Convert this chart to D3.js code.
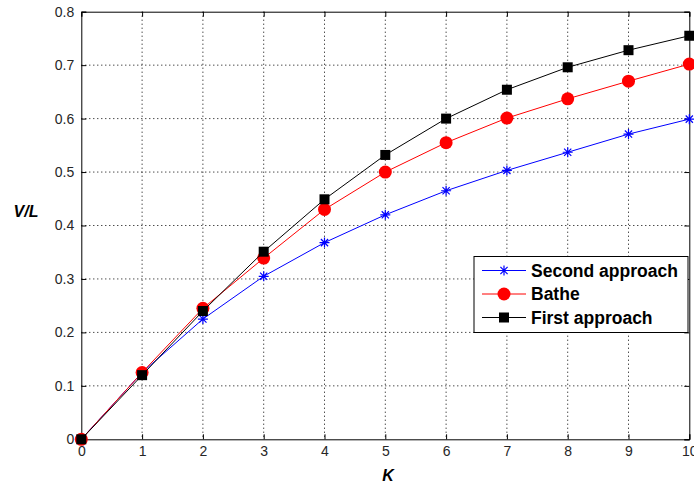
<!DOCTYPE html>
<html>
<head>
<meta charset="utf-8">
<script src="https://cdn.jsdelivr.net/npm/d3@7"></script>
<style>
  body { margin: 0; background: #fff; }
  text { font-family: Arial, "Liberation Sans", sans-serif; }
</style>
</head>
<body>
<div id="chart"></div>
<script>
var svgWidth = 694;
var svgHeight = 483;

var leftMargin = 81.3;
var rightMargin = 694 - 689.3;
var topMargin = 11.7;
var bottomMargin = 483 - 439.3;

var chartWidth = svgWidth - leftMargin - rightMargin;
var chartHeight = svgHeight - topMargin - bottomMargin;

// data
var kValues = [0, 1, 2, 3, 4, 5, 6, 7, 8, 9, 10];
var secondApproach = [0, 0.125, 0.225, 0.305, 0.368, 0.42, 0.465, 0.503, 0.537, 0.571, 0.599];
var bathe = [0, 0.125, 0.245, 0.339, 0.43, 0.50, 0.555, 0.601, 0.637, 0.670, 0.702];
var firstApproach = [0, 0.12, 0.24, 0.351, 0.449, 0.532, 0.60, 0.654, 0.696, 0.728, 0.755];

var xTicks = [0, 1, 2, 3, 4, 5, 6, 7, 8, 9, 10];
var yTicks = [0, 0.1, 0.2, 0.3, 0.4, 0.5, 0.6, 0.7, 0.8];

var series = [
    {name: 'Second approach', values: secondApproach, color: '#0000ff', marker: 'star'},
    {name: 'Bathe', values: bathe, color: '#ff0000', marker: 'circle'},
    {name: 'First approach', values: firstApproach, color: '#000000', marker: 'square'}
];

var svg = d3.select('#chart')
    .append('svg')
    .attr('width', svgWidth)
    .attr('height', svgHeight);

var chart = svg.append('g')
    .attr('transform', `translate(${leftMargin}, ${topMargin})`);

var x = d3.scaleLinear().domain([0, 10]).range([0, chartWidth]);
var y = d3.scaleLinear().domain([0, 0.8]).range([chartHeight, 0]);

// dotted grid
chart.selectAll('.vgrid')
    .data(xTicks.slice(1, -1))
    .enter()
    .append('line')
    .attr('x1', d => x(d)).attr('x2', d => x(d))
    .attr('y1', 0).attr('y2', chartHeight)
    .attr('stroke', '#000')
    .attr('stroke-width', 1)
    .attr('stroke-dasharray', '1,3');

chart.selectAll('.hgrid')
    .data(yTicks.slice(1, -1))
    .enter()
    .append('line')
    .attr('x1', 0).attr('x2', chartWidth)
    .attr('y1', d => y(d)).attr('y2', d => y(d))
    .attr('stroke', '#000')
    .attr('stroke-width', 1)
    .attr('stroke-dasharray', '1,3');

// axes with inward ticks on all sides
var xBottom = chart.append('g')
    .attr('transform', `translate(0, ${chartHeight})`)
    .call(d3.axisBottom(x).tickValues(xTicks).tickSize(-5).tickPadding(8).tickFormat(d3.format('d')));
var xTop = chart.append('g')
    .call(d3.axisTop(x).tickValues(xTicks).tickSize(-5).tickFormat(''));
var yLeft = chart.append('g')
    .call(d3.axisLeft(y).tickValues(yTicks).tickSize(-5).tickPadding(7).tickFormat(d => d === 0 ? '0' : d3.format('.1f')(d)));
var yRight = chart.append('g')
    .attr('transform', `translate(${chartWidth}, 0)`)
    .call(d3.axisRight(y).tickValues(yTicks).tickSize(-5).tickFormat(''));

[xBottom, xTop, yLeft, yRight].forEach(function(ax) {
    ax.select('.domain').attr('stroke', '#000').attr('stroke-width', 1);
    ax.selectAll('.tick line').attr('stroke', '#000');
    ax.selectAll('text')
        .attr('fill', '#262626')
        .style('font-size', '14px')
        .style('font-family', 'Arial, "Liberation Sans", sans-serif');
});
xBottom.selectAll('text').attr('dy', '0.65em');

var line = d3.line()
    .x((d, i) => x(kValues[i]))
    .y(d => y(d));

function drawMarker(g, type, color, cx, cy) {
    if (type === 'circle') {
        g.append('circle')
            .attr('cx', cx).attr('cy', cy).attr('r', 6.5)
            .attr('fill', color);
    } else if (type === 'square') {
        g.append('rect')
            .attr('x', cx - 5).attr('y', cy - 5)
            .attr('width', 10).attr('height', 10)
            .attr('fill', color);
    } else {
        var r = 5;
        var s = r * 0.72;
        var p = `M${cx - r},${cy}L${cx + r},${cy}M${cx},${cy - r}L${cx},${cy + r}` +
                `M${cx - s},${cy - s}L${cx + s},${cy + s}M${cx - s},${cy + s}L${cx + s},${cy - s}`;
        g.append('path')
            .attr('d', p)
            .attr('stroke', color)
            .attr('stroke-width', 1.2)
            .attr('fill', 'none');
    }
}

series.forEach(function(s) {
    chart.append('path')
        .datum(s.values)
        .attr('d', line)
        .attr('fill', 'none')
        .attr('stroke', s.color)
        .attr('stroke-width', 1);
    var mg = chart.append('g');
    s.values.forEach(function(v, i) {
        drawMarker(mg, s.marker, s.color, x(kValues[i]), y(v));
    });
});

// axis labels
svg.append('text')
    .attr('x', 26)
    .attr('y', 217)
    .attr('text-anchor', 'middle')
    .style('font-size', '16px')
    .style('font-weight', 'bold')
    .style('font-style', 'italic')
    .text('V/L');

svg.append('text')
    .attr('x', 388)
    .attr('y', 481)
    .attr('text-anchor', 'middle')
    .style('font-size', '16px')
    .style('font-weight', 'bold')
    .style('font-style', 'italic')
    .text('K');

// legend
var legend = svg.append('g')
    .attr('transform', 'translate(474, 256.5)');

legend.append('rect')
    .attr('width', 214)
    .attr('height', 76)
    .attr('fill', '#fff')
    .attr('stroke', '#000')
    .attr('stroke-width', 1);

series.forEach(function(s, i) {
    var ly = 14 + i * 23.5;
    legend.append('line')
        .attr('x1', 8).attr('x2', 52)
        .attr('y1', ly).attr('y2', ly)
        .attr('stroke', s.color)
        .attr('stroke-width', 1);
    drawMarker(legend, s.marker, s.color, 30, ly);
    legend.append('text')
        .attr('x', 57)
        .attr('y', ly)
        .attr('dy', '0.35em')
        .style('font-size', '17.5px')
        .style('font-weight', 'bold')
        .text(s.name);
});
</script>
</body>
</html>
